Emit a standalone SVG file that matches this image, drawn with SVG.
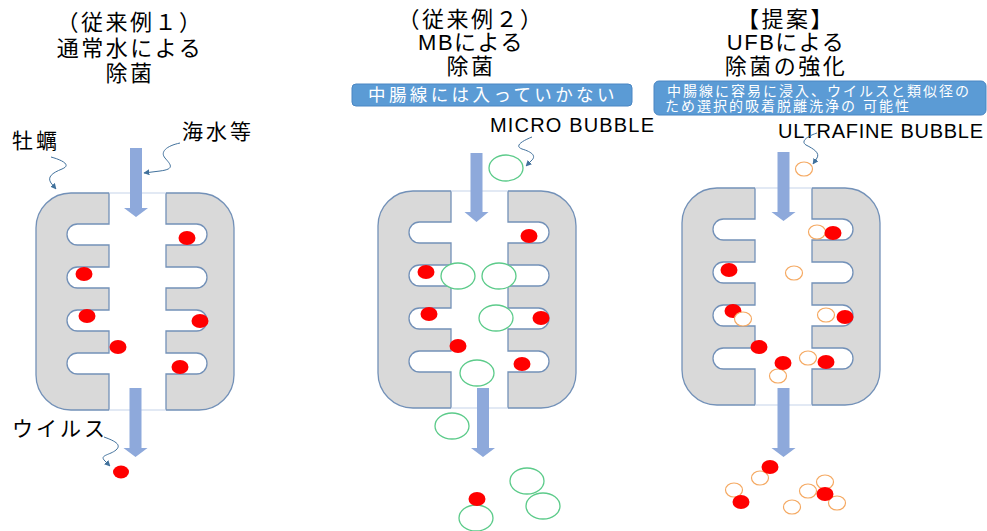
<svg xmlns="http://www.w3.org/2000/svg" xmlns:xlink="http://www.w3.org/1999/xlink" width="987" height="531" viewBox="0 0 987 531">
  <style>
    text { font-family: "Liberation Sans", "Noto Sans CJK JP", sans-serif; fill: #000; }
    .title { font-size: 22px; letter-spacing: 2.5px; text-anchor: middle; }
    .label { font-size: 21px; letter-spacing: 3px; }
    .eng { font-size: 20px; }
    .note { fill: #fff; }
    .body { fill: #D9D9D9; stroke: #7391B8; stroke-width: 1.3; }
    .edge { fill: none; stroke: #7391B8; stroke-width: 1.3; }
    .open { stroke: #C5D3EA; stroke-width: 1.2; }
    .flow { fill: #8EA9DB; }
    .box { fill: #5B9BD5; stroke: #4A86C3; stroke-width: 1; }
    .virus { fill: #FF0000; }
    .mb { fill: #fff; stroke: #5CCB8A; stroke-width: 1.3; }
    .ufb { fill: #fff; stroke: #F5A962; stroke-width: 1.2; }
    .leader { fill: none; stroke: #41719C; stroke-width: 1; marker-end: url(#tip); }
  </style>
  <defs>
    <marker id="tip" viewBox="0 0 10 10" refX="9" refY="5" markerWidth="6" markerHeight="6" orient="auto" markerUnits="userSpaceOnUse">
      <path d="M0,0 L10,5 L0,10 Z" fill="#41719C"/>
    </marker>
    <!-- oyster body: grey shell with central channel and four gill slots per side -->
    <g id="chamber">
      <rect class="body" x="0" y="0" width="198" height="217" rx="35" ry="35"/>
      <rect x="73" y="-1" width="57" height="219" fill="#fff"/>
      <rect x="31" y="31" width="52" height="21" rx="10.5" fill="#fff"/>
      <rect x="31" y="74" width="52" height="21" rx="10.5" fill="#fff"/>
      <rect x="31" y="117" width="52" height="21" rx="10.5" fill="#fff"/>
      <rect x="31" y="160" width="52" height="21" rx="10.5" fill="#fff"/>
      <rect x="120" y="31" width="51" height="21" rx="10.5" fill="#fff"/>
      <rect x="120" y="74" width="51" height="21" rx="10.5" fill="#fff"/>
      <rect x="120" y="117" width="51" height="21" rx="10.5" fill="#fff"/>
      <rect x="120" y="160" width="51" height="21" rx="10.5" fill="#fff"/>
      <path class="edge" d="M73,0 V31 H41.5 A10.5,10.5 0 0 0 41.5,52 H73 V74 H41.5 A10.5,10.5 0 0 0 41.5,95 H73 V117 H41.5 A10.5,10.5 0 0 0 41.5,138 H73 V160 H41.5 A10.5,10.5 0 0 0 41.5,181 H73 V217"/>
      <path class="edge" d="M130,0 V31 H160.5 A10.5,10.5 0 0 1 160.5,52 H130 V74 H160.5 A10.5,10.5 0 0 1 160.5,95 H130 V117 H160.5 A10.5,10.5 0 0 1 160.5,138 H130 V160 H160.5 A10.5,10.5 0 0 1 160.5,181 H130 V217"/>
      <line class="open" x1="73" y1="0" x2="130" y2="0"/>
      <line class="open" x1="73" y1="217" x2="130" y2="217"/>
    </g>
  </defs>

  <!-- conventional case 1: ordinary water -->
  <g id="case1">
    <text class="title" x="130" y="30">（従来例１）</text>
    <text class="title" x="130" y="56">通常水による</text>
    <text class="title" x="130" y="81">除菌</text>
    <use xlink:href="#chamber" x="36" y="193"/>
    <path class="flow" d="M130,148 V208 H124 L136,217 L148,208 H142 V148 Z"/>
    <path class="flow" d="M129.5,388 V448 H123.5 L135.5,457 L147.5,448 H141.5 V388 Z"/>
    <text class="label" x="12" y="148">牡蠣</text>
    <text class="label" x="182" y="139">海水等</text>
    <text class="label" x="12" y="436">ウイルス</text>
    <ellipse class="virus" cx="187" cy="238" rx="8.5" ry="7"/>
    <ellipse class="virus" cx="84" cy="274" rx="8.5" ry="7"/>
    <ellipse class="virus" cx="87" cy="316" rx="8.5" ry="7"/>
    <ellipse class="virus" cx="200" cy="321" rx="8.5" ry="7"/>
    <ellipse class="virus" cx="118" cy="347" rx="8.5" ry="7"/>
    <ellipse class="virus" cx="180" cy="367" rx="8.5" ry="7"/>
    <ellipse class="virus" cx="121" cy="472" rx="8" ry="6.5"/>
  </g>

  <!-- conventional case 2: micro bubbles -->
  <g id="case2">
    <text class="title" x="471" y="27">（従来例２）</text>
    <text class="title" x="471" y="50" style="letter-spacing:1.5px">MBによる</text>
    <text class="title" x="471" y="74">除菌</text>
    <rect class="box" x="352" y="84" width="280" height="22" rx="4"/>
    <text class="note" x="368" y="101" style="font-size:17.5px;letter-spacing:3.4px">中腸線には入っていかない</text>
    <text class="eng" x="490" y="132" textLength="164" lengthAdjust="spacing">MICRO BUBBLE</text>
    <use xlink:href="#chamber" x="378" y="191"/>
    <path class="flow" d="M470.5,153 V212 H464.5 L476.5,222 L488.5,212 H482.5 V153 Z"/>
    <path class="flow" d="M477,388 V448 H471 L483,457 L495,448 H489 V388 Z"/>
    <ellipse class="mb" cx="506" cy="168" rx="17" ry="13"/>
    <ellipse class="mb" cx="458" cy="276" rx="17" ry="13"/>
    <ellipse class="mb" cx="499" cy="276" rx="17" ry="13"/>
    <ellipse class="mb" cx="496" cy="318" rx="17" ry="13"/>
    <ellipse class="mb" cx="477" cy="373" rx="17" ry="13"/>
    <ellipse class="mb" cx="452" cy="426" rx="17" ry="13"/>
    <ellipse class="mb" cx="527" cy="481" rx="17" ry="13"/>
    <ellipse class="mb" cx="543" cy="506" rx="17" ry="13"/>
    <ellipse class="mb" cx="476" cy="518" rx="17" ry="13"/>
    <ellipse class="virus" cx="529" cy="236" rx="8.5" ry="7"/>
    <ellipse class="virus" cx="426" cy="272" rx="8.5" ry="7"/>
    <ellipse class="virus" cx="429" cy="314" rx="8.5" ry="7"/>
    <ellipse class="virus" cx="541" cy="318" rx="8.5" ry="7"/>
    <ellipse class="virus" cx="458" cy="346" rx="8.5" ry="7"/>
    <ellipse class="virus" cx="522" cy="364" rx="8.5" ry="7"/>
    <ellipse class="virus" cx="477" cy="499" rx="8.5" ry="7"/>
  </g>

  <!-- proposal: ultrafine bubbles -->
  <g id="proposal">
    <text class="title" x="786" y="27">【提案】</text>
    <text class="title" x="786" y="50" style="letter-spacing:1.5px">UFBによる</text>
    <text class="title" x="786" y="74">除菌の強化</text>
    <rect class="box" x="654" y="81" width="332" height="34" rx="5"/>
    <text class="note" x="667" y="96" style="font-size:14px;letter-spacing:2px">中腸線に容易に浸入、ウイルスと類似径の</text>
    <text class="note" x="665" y="111" style="font-size:14px;letter-spacing:2px">ため選択的吸着脱離洗浄の 可能性</text>
    <text class="eng" x="778" y="138" textLength="205" lengthAdjust="spacing">ULTRAFINE BUBBLE</text>
    <use xlink:href="#chamber" x="682" y="188"/>
    <path class="flow" d="M777.5,152 V212 H771.5 L783.5,221 L795.5,212 H789.5 V152 Z"/>
    <path class="flow" d="M777.5,388 V448 H771.5 L783.5,457 L795.5,448 H789.5 V388 Z"/>
    <ellipse class="ufb" cx="804" cy="169" rx="8.5" ry="7"/>
    <ellipse class="ufb" cx="817" cy="232" rx="8.5" ry="7"/>
    <ellipse class="virus" cx="833" cy="233" rx="8.5" ry="7"/>
    <ellipse class="virus" cx="729" cy="270" rx="8.5" ry="7"/>
    <ellipse class="ufb" cx="794" cy="273" rx="8.5" ry="7"/>
    <ellipse class="virus" cx="733" cy="311" rx="8.5" ry="7"/>
    <ellipse class="ufb" cx="743" cy="319" rx="8.5" ry="7"/>
    <ellipse class="ufb" cx="826" cy="315" rx="8.5" ry="7"/>
    <ellipse class="virus" cx="845" cy="317" rx="8.5" ry="7"/>
    <ellipse class="virus" cx="759" cy="347" rx="8.5" ry="7"/>
    <ellipse class="ufb" cx="808" cy="358" rx="8.5" ry="7"/>
    <ellipse class="ufb" cx="778" cy="376" rx="8.5" ry="7"/>
    <ellipse class="virus" cx="783" cy="363" rx="8.5" ry="7"/>
    <ellipse class="virus" cx="826" cy="362" rx="8.5" ry="7"/>
    <ellipse class="ufb" cx="760" cy="478" rx="8.5" ry="7"/>
    <ellipse class="virus" cx="770" cy="467" rx="8.5" ry="7"/>
    <ellipse class="ufb" cx="734" cy="490" rx="8.5" ry="7"/>
    <ellipse class="virus" cx="741" cy="502" rx="8.5" ry="7"/>
    <ellipse class="ufb" cx="808" cy="491" rx="8.5" ry="7"/>
    <ellipse class="ufb" cx="825" cy="482" rx="8.5" ry="7"/>
    <ellipse class="ufb" cx="837" cy="503" rx="8.5" ry="7"/>
    <ellipse class="virus" cx="825" cy="494" rx="8.5" ry="7"/>
    <ellipse class="ufb" cx="792" cy="507" rx="8.5" ry="7"/>
  </g>

  <!-- wavy callout leaders -->
  <g id="leaders">
    <path class="leader" d="M51,157 C62,160 72,165 62,169 C52,173 47,177 51,183 L56,189"/>
    <path class="leader" d="M180,143 C166,146 160,152 165,158 C170,164 176,169 160,171 L144,173"/>
    <path class="leader" d="M104,437 C112,440 123,444 116,450 C110,455 100,455 104,460 L110,466"/>
    <path class="leader" d="M532,137 C522,141 514,146 522,149 C532,152 537,156 531,161 L526,166"/>
    <path class="leader" d="M817,133 C808,136 800,141 806,145 C814,149 820,153 817,158 L813,164"/>
  </g>
</svg>
